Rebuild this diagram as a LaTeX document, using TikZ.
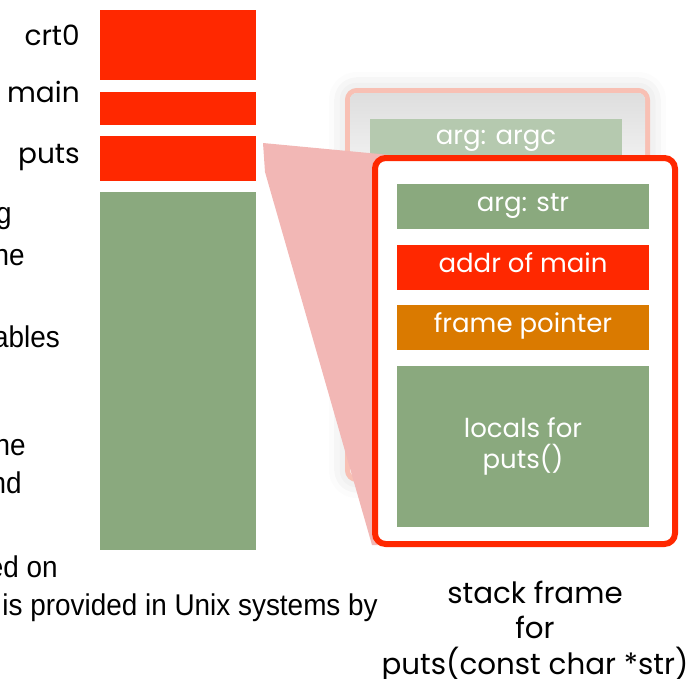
\documentclass[tikz,border=0pt]{standalone}
\usepackage{fontspec}
\setmainfont{Poppins}
\newfontfamily\narrowfont[FakeStretch=0.93]{Liberation Sans}
\usetikzlibrary{shadows.blur}

\definecolor{stackred}{RGB}{255,40,0}
\definecolor{stackgreen}{RGB}{138,169,126}
\definecolor{palegreen}{RGB}{181,201,175}
\definecolor{fporange}{RGB}{218,122,0}
\definecolor{wedgepink}{RGB}{242,183,181}
\definecolor{backborder}{RGB}{248,192,180}

\tikzset{
  bar/.style={rectangle, inner sep=0pt, draw=none, minimum width=117pt},
  redbar/.style={bar, fill=stackred},
  greenbar/.style={bar, fill=stackgreen},
  slot/.style={rectangle, inner sep=0pt, draw=none, minimum width=189pt,
    text=white, align=center, font=\fontsize{19.5}{24}\selectfont},
  oneline/.style={text height=12pt, text depth=4.5pt},
  framelabel/.style={inner sep=0pt, anchor=base east, font=\fontsize{21}{25}\selectfont},
  bodytext/.style={inner sep=0pt, anchor=base east, font=\narrowfont\fontsize{22.5}{27}\selectfont},
  caption/.style={inner sep=0pt, anchor=base, font=\fontsize{22}{27}\selectfont},
  frameshadow/.style={blur shadow={shadow xshift=0pt, shadow yshift=0pt,
    shadow blur radius=14pt, shadow opacity=18}},
}

\begin{document}
\begin{tikzpicture}[x=0.75pt,y=-0.75pt]
\useasboundingbox (0,0) rectangle (690,679);

% partly covered body text on the left
\node[bodytext] (t1) at (12,223) {g};
\node[bodytext] (t2) at (25,265) {he};
\node[bodytext] (t3) at (60,347) {ables};
\node[bodytext] (t4) at (26,455) {he};
\node[bodytext] (t5) at (22,493) {nd};
\node[bodytext] (t6) at (58,577) {ed on};
\node[bodytext] (t7) at (378,615) {is provided in Unix systems by};

% the call stack
\node[redbar, minimum height=52.5pt] (crt0) at (178,45) {};
\node[redbar, minimum height=24.75pt] (main) at (178,108.5) {};
\node[redbar, minimum height=33.75pt] (puts) at (178,158.5) {};
\node[greenbar, minimum height=268.5pt] (free) at (178,371) {};

\node[framelabel] (lcrt0) at (80,45) {crt0};
\node[framelabel] (lmain) at (80,102) {main};
\node[framelabel] (lputs) at (80,163) {puts};

% frame of the caller, behind
\node[rectangle, rounded corners=7pt, draw=backborder, line width=3.75pt,
      fill=white, frameshadow, minimum width=225pt, minimum height=291.75pt]
      (backframe) at (497.5,285) {};
\begin{scope}
  \clip[rounded corners=5pt] (350,93) rectangle (645,477);
  \shade[top color=black!13, bottom color=white] (350,93) rectangle (645,215);
\end{scope}
\node[slot, oneline, fill=palegreen, minimum height=30.75pt] (argc) at (496,139.5) {arg: argc};

% zoom wedge from the puts frame
\fill[wedgepink] (263,143) -- (390,155) -- (390,545) -- (372,545) -- (265,172) -- cycle;

% frame of puts, in front
\node[rectangle, rounded corners=8pt, draw=stackred, line width=4.5pt,
      fill=white, minimum width=225pt, minimum height=289.5pt]
      (frontframe) at (525,351) {};

\node[slot, oneline, fill=stackgreen, minimum height=33.75pt] (argstr) at (523,206.5) {arg: str};
\node[slot, oneline, fill=stackred, minimum height=33.75pt] (retaddr) at (523,267.5) {addr of main};
\node[slot, oneline, fill=fporange, minimum height=33.75pt] (fp) at (523,327.5) {frame pointer};
\node[slot, fill=stackgreen, minimum height=120.75pt] (locals) at (523,446.5)
      {locals for\\[-1pt]puts()};

% caption
\node[caption] (cap1) at (535,603) {stack frame};
\node[caption] (cap2) at (535,638) {for};
\node[caption] (cap3) at (535,674) {puts(const char *str)};
\end{tikzpicture}
\end{document}
